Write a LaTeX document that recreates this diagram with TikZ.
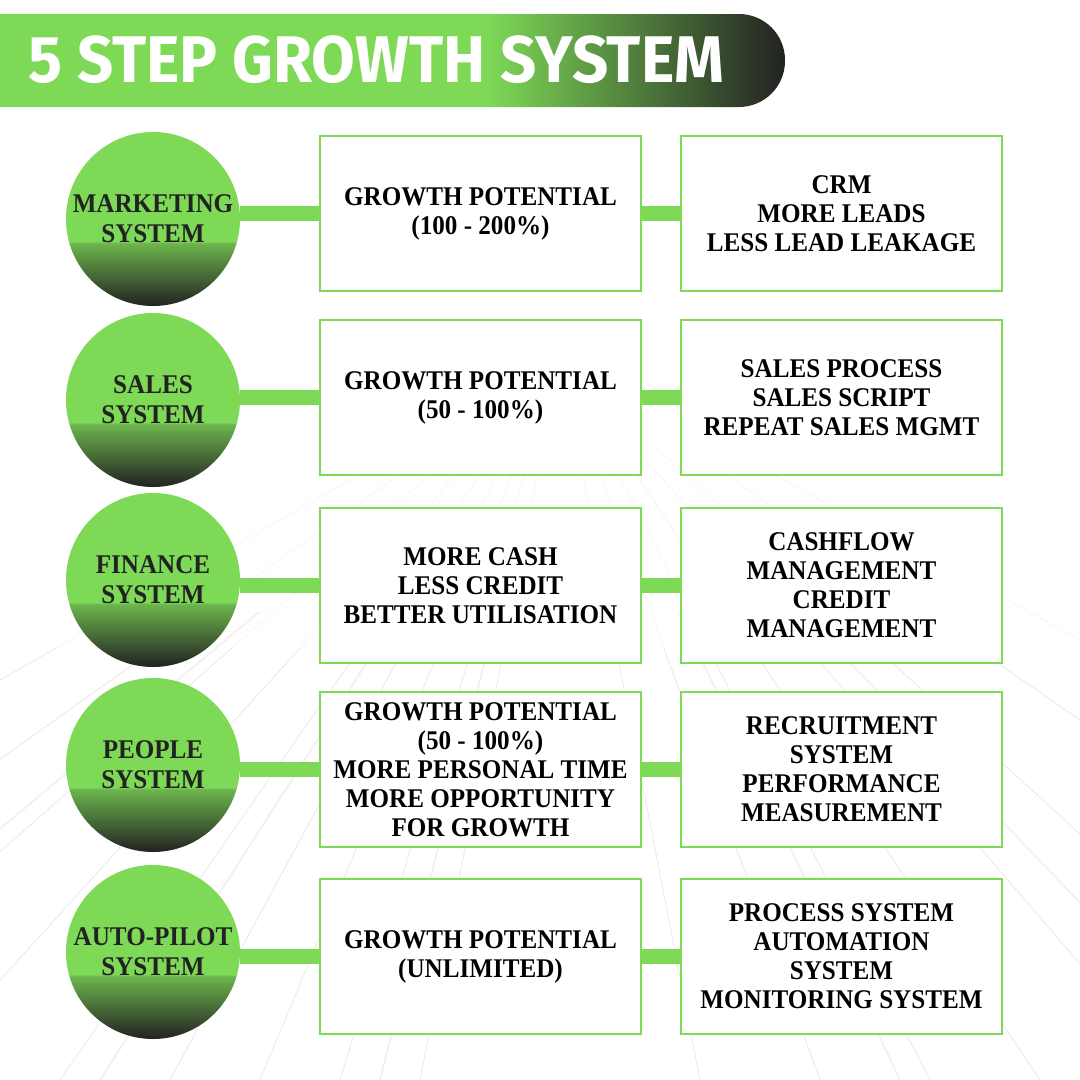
\documentclass[tikz,border=0pt]{standalone}
\usepackage{fontspec}
\setmainfont{Liberation Serif}[FakeStretch=0.93]
\newfontfamily\titlefont{Fira Sans}[FakeStretch=0.96]
\usepackage{tikz}
\usetikzlibrary{positioning,calc}

\definecolor{grn}{HTML}{7ED957}
\definecolor{drk}{HTML}{222222}
\definecolor{haze}{HTML}{D4D4D4}
\pgfdeclarehorizontalshading{bannershade}{100bp}{color(0bp)=(grn); color(56bp)=(grn); color(75bp)=(drk); color(100bp)=(drk)}
\pgfdeclareverticalshading{ballshade}{100bp}{color(0bp)=(drk); color(25bp)=(drk); color(43bp)=(grn!80!drk); color(43.6bp)=(grn); color(100bp)=(grn)}

\begin{document}
\begin{tikzpicture}[x=1pt,y=-1pt,
    ball/.style={circle, minimum size=174pt, inner sep=0pt, shading=ballshade,
      text=drk, align=center, font=\bfseries\fontsize{27}{30}\selectfont},
    card/.style={draw=grn, line width=2pt, fill=white, minimum width=321pt,
      minimum height=155pt, inner sep=0pt, align=center,
      font=\bfseries\fontsize{27}{29}\selectfont},
    link/.style={draw=grn, line width=15pt}]
    \useasboundingbox (0,0) rectangle (1080,1080);
    \fill[white] (0,0) rectangle (1080,1080);

    % faint building lines in the back
    \coordinate (vp) at (560,360);
    \foreach \bx in {-700,-450,-260,-90,60,170,260,340,420,700,820,930,1040,1180,1350,1600,1900} {
      \draw[haze, line width=0.6pt, opacity=0.25] ($(vp)!0.12!(\bx,1080)$) -- ($(vp)!0.4!(\bx,1080)$);
      \draw[haze, line width=0.7pt, opacity=0.55] ($(vp)!0.4!(\bx,1080)$) -- (\bx,1080);
    }
    \foreach \bx in {-300,100,380,900,1250}
      \draw[haze, line width=2pt, opacity=0.3] ($(vp)!0.35!(\bx,1080)$) -- (\bx,1080);

    % title banner
    \shade[shading=bannershade] (0,14) [rounded corners=46pt] -- (785,14) -- (785,107)
      [sharp corners] -- (0,107) -- cycle;
    \node[anchor=base west, inner sep=0pt, text=white,
      font=\titlefont\bfseries\fontsize{66}{66}\selectfont] (title) at (28,82) {5 STEP GROWTH SYSTEM};

    % systems
    \node[ball] (mkt) at (153,219) {MARKETING\\SYSTEM};
    \node[ball] (sales) at (153,400) {SALES\\SYSTEM};
    \node[ball] (fin) at (153,580) {FINANCE\\SYSTEM};
    \node[ball] (ppl) at (153,765) {PEOPLE\\SYSTEM};
    \node[ball] (auto) at (153,952) {AUTO-PILOT\\SYSTEM};

    % potential
    \node[card] (mkt-gain) at (480.5,213.5) {GROWTH POTENTIAL\\(100 - 200\%)};
    \node[card] (sales-gain) at (480.5,397.5) {GROWTH POTENTIAL\\(50 - 100\%)};
    \node[card] (fin-gain) at (480.5,585.5) {MORE CASH\\LESS CREDIT\\BETTER UTILISATION};
    \node[card] (ppl-gain) at (480.5,769.5) {GROWTH POTENTIAL\\(50 - 100\%)\\MORE PERSONAL TIME\\MORE OPPORTUNITY\\FOR GROWTH};
    \node[card] (auto-gain) at (480.5,956.5) {GROWTH POTENTIAL\\(UNLIMITED)};

    % tools
    \node[card] (mkt-tool) at (841.5,213.5) {CRM\\MORE LEADS\\LESS LEAD LEAKAGE};
    \node[card] (sales-tool) at (841.5,397.5) {SALES PROCESS\\SALES SCRIPT\\REPEAT SALES MGMT};
    \node[card] (fin-tool) at (841.5,585.5) {CASHFLOW\\MANAGEMENT\\CREDIT\\MANAGEMENT};
    \node[card] (ppl-tool) at (841.5,769.5) {RECRUITMENT\\SYSTEM\\PERFORMANCE\\MEASUREMENT};
    \node[card] (auto-tool) at (841.5,956.5) {PROCESS SYSTEM\\AUTOMATION\\SYSTEM\\MONITORING SYSTEM};

    % bars
    \draw[link] (mkt.east |- mkt-gain.west) -- (mkt-gain.west);
    \draw[link] (sales.east |- sales-gain.west) -- (sales-gain.west);
    \draw[link] (fin.east |- fin-gain.west) -- (fin-gain.west);
    \draw[link] (ppl.east |- ppl-gain.west) -- (ppl-gain.west);
    \draw[link] (auto.east |- auto-gain.west) -- (auto-gain.west);
    \draw[link] (mkt-gain) -- (mkt-tool);
    \draw[link] (sales-gain) -- (sales-tool);
    \draw[link] (fin-gain) -- (fin-tool);
    \draw[link] (ppl-gain) -- (ppl-tool);
    \draw[link] (auto-gain) -- (auto-tool);
\end{tikzpicture}
\end{document}
